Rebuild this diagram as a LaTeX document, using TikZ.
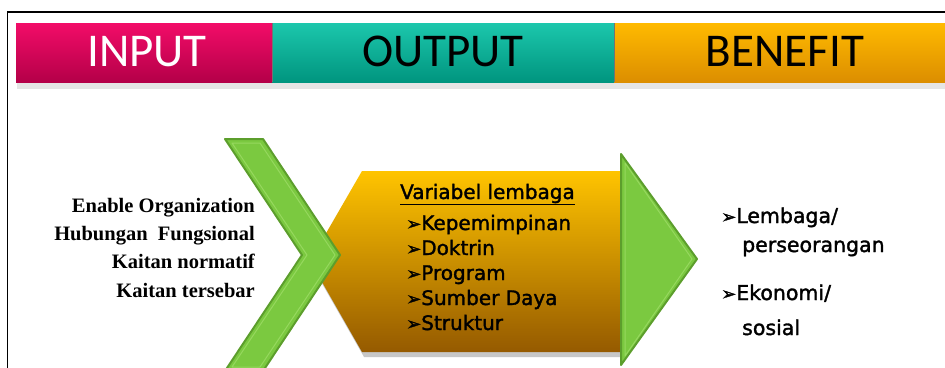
\documentclass[tikz,border=0pt]{standalone}
\usepackage{fontspec}
\setmainfont{Liberation Serif}
\newfontfamily\hdrfont{Carlito}
\newfontfamily\dvfont[FakeBold=1.6]{DejaVu Sans}
\definecolor{pinkT}{HTML}{F20C68}
\definecolor{pinkB}{HTML}{B40048}
\definecolor{tealT}{HTML}{1CC7AC}
\definecolor{tealB}{HTML}{00957F}
\definecolor{orT}{HTML}{FFBA00}
\definecolor{orB}{HTML}{DC8E00}
\definecolor{hexT}{HTML}{FFC400}
\definecolor{hexB}{HTML}{955A00}
\definecolor{grnF}{HTML}{7BC940}
\definecolor{grnD}{HTML}{5C9E2C}
\definecolor{grnL}{HTML}{96D85E}
\newcommand\blt{{\fontsize{18}{18}\selectfont ➢}}
\tikzset{
  hdr/.style={font=\hdrfont\fontsize{47}{47}\selectfont, anchor=base, inner sep=0},
  lefttxt/.style={font=\bfseries\fontsize{20.5}{24}\selectfont, anchor=base east, inner sep=0},
  midtxt/.style={font=\dvfont\fontsize{20}{24}\selectfont, anchor=base west, inner sep=0},
  righttxt/.style={font=\dvfont\fontsize{20.5}{24}\selectfont, anchor=base west, inner sep=0},
  greenshape/.style={fill=grnF, draw=grnD, line width=2pt, line join=round},
}
\begin{document}
\begin{tikzpicture}[x=1pt,y=-1pt]
\useasboundingbox (0,0) rectangle (945,367);
\clip (0,0) rectangle (945,367);
\fill[white] (0,0) rectangle (945,367);
% frame
\draw[line width=1.6pt] (7.5,380) -- (7.5,12) -- (960,12);
% bar shadow
\fill[black!18] (17,26) rectangle (960,87);
\fill[black!10] (17,26) rectangle (960,89);
% bars
\shade[top color=pinkT, bottom color=pinkB] (16,23) rectangle (272,82);
\shade[top color=tealT, bottom color=tealB] (272,23) rectangle (614,82);
\shade[top color=orT, bottom color=orB] (614,23) rectangle (960,82);
\draw[black!55, line width=0.8pt] (272,23) -- (272,82) (614,23) -- (614,82);
\node[hdr, text=white] (hin) at (147,66) {INPUT};
\node[hdr, text=black] (hout) at (443,66) {OUTPUT};
\node[hdr, text=black] (hben) at (785,66) {BENEFIT};
% hexagon shadow and body
\fill[black!22] (364,175) -- (626,175) -- (626,357) -- (364,357) -- (312,266) -- cycle;
\shade[top color=hexT, bottom color=hexB] (362,171) -- (622,171) -- (622,352) -- (362,352) -- (310,261) -- cycle;
% chevron
\draw[greenshape] (225,139) -- (263,139) -- (340,255) -- (263,371) -- (225,371) -- (302,255) -- cycle;
\draw[grnL, line width=1pt, line join=round] (232,143) -- (260,143) -- (335,255) -- (260,367) -- (232,367) -- (307,255) -- cycle;
% triangle
\draw[greenshape] (621,154) -- (697,259) -- (621,365) -- cycle;
\draw[grnL, line width=1pt, line join=round] (625,163) -- (692,259) -- (625,356) -- cycle;
% left texts
\node[lefttxt] (l1) at (255,212) {Enable Organization};
\node[lefttxt] (l2) at (255,240) {Hubungan\ \ Fungsional};
\node[lefttxt] (l3) at (255,268) {Kaitan normatif};
\node[lefttxt] (l4) at (255,297) {Kaitan tersebar};
% middle texts
\node[midtxt] (mt) at (400,199) {\underline{Variabel lembaga}};
\node[midtxt] (m1) at (406,230) {\blt Kepemimpinan};
\node[midtxt] (m2) at (406,255) {\blt Doktrin};
\node[midtxt] (m3) at (406,280) {\blt Program};
\node[midtxt] (m4) at (406,305) {\blt Sumber Daya};
\node[midtxt] (m5) at (406,330) {\blt Struktur};
% right texts
\node[righttxt] (r1) at (721,223) {\blt Lembaga/};
\node[righttxt] (r2) at (742,252) {perseorangan};
\node[righttxt] (r3) at (721,300) {\blt Ekonomi/};
\node[righttxt] (r4) at (742,335) {sosial};
\end{tikzpicture}
\end{document}
